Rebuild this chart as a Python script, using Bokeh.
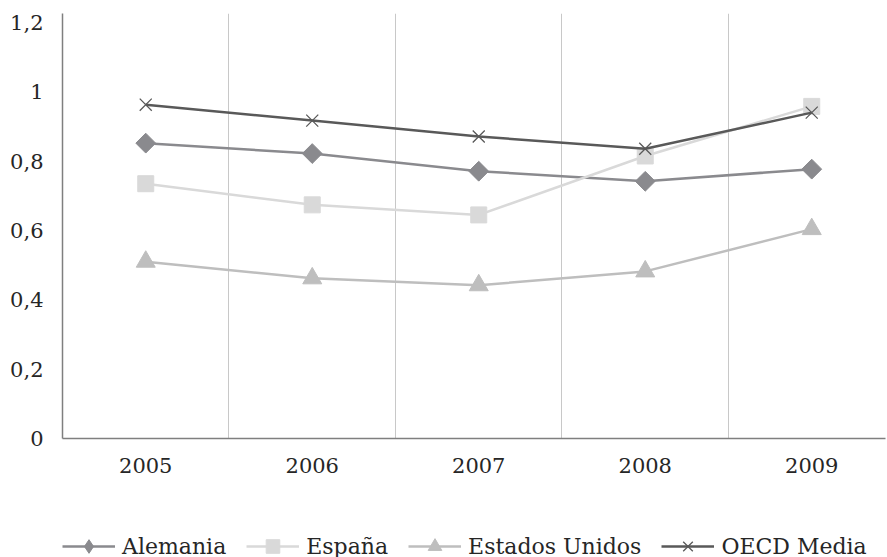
import math
from bokeh.plotting import figure
from bokeh.layouts import column
from bokeh.models import FixedTicker, Legend, LegendItem, Range1d
from bokeh.embed import file_html
from bokeh.resources import INLINE

years = ["2005", "2006", "2007", "2008", "2009"]
alemania = [0.852, 0.822, 0.771, 0.742, 0.777]
espana = [0.735, 0.674, 0.645, 0.815, 0.958]
eeuu = [0.510, 0.462, 0.442, 0.482, 0.604]
oecd = [0.963, 0.917, 0.871, 0.836, 0.940]
y_ticks = [0, 0.2, 0.4, 0.6, 0.8, 1.0, 1.2]
y_labels = ["0", "0,2", "0,4", "0,6", "0,8", "1", "1,2"]

FONT = "DejaVu Serif"
TXT = "#262626"
x = list(range(len(years)))

series = [
    ("Alemania", alemania, "#8a8a8e", "square", 14, math.pi / 4),
    ("España", espana, "#d9d9d9", "square", 16, 0),
    ("Estados Unidos", eeuu, "#bebebe", "triangle", 19, 0),
    ("OECD Media", oecd, "#595959", "x", 17, 0),
]


def add_series(fig, legend_copy=False):
    rs = []
    for name, vals, col, marker, size, ang in series:
        l = fig.line(x, vals, line_color=col, line_width=2.5)
        if legend_copy and ang:
            marker, ang = "diamond", 0
        if marker == "x":
            s = fig.scatter(x, vals, marker="x", size=size, line_color=col, line_width=1.3)
        else:
            s = fig.scatter(x, vals, marker=marker, size=size, angle=ang,
                            fill_color=col, line_color=col, line_width=1)
        rs.append((name, l, s))
    return rs


# main chart
p = figure(width=887, height=486, output_backend="svg", toolbar_location=None,
           x_range=Range1d(-0.5, 4.443), y_range=Range1d(0, 1.226),
           min_border_left=62, min_border_right=2, min_border_top=13, min_border_bottom=48)
p.outline_line_color = None

p.xaxis.ticker = FixedTicker(ticks=x)
p.xaxis.major_label_overrides = {i: y for i, y in enumerate(years)}
p.yaxis.ticker = FixedTicker(ticks=y_ticks)
p.yaxis.major_label_overrides = {t: l for t, l in zip(y_ticks, y_labels)}
for ax in (p.xaxis[0], p.yaxis[0]):
    ax.major_tick_line_color = None
    ax.minor_tick_line_color = None
    ax.major_tick_out = 0
    ax.major_tick_in = 0
    ax.axis_line_color = "#7f7f7f"
    ax.axis_line_width = 1.5
    ax.major_label_text_font = FONT
    ax.major_label_text_font_size = "21px"
    ax.major_label_text_color = TXT
p.xaxis.major_label_standoff = 19
p.yaxis.major_label_standoff = 19

p.ygrid.grid_line_color = None
p.xgrid.ticker = FixedTicker(ticks=[0.5, 1.5, 2.5, 3.5])
p.xgrid.grid_line_color = "#c8c8c8"
p.xgrid.grid_line_width = 1

add_series(p)

# legend strip (its own copies of the series, kept outside its visible range)
q = figure(width=887, height=71, output_backend="svg", toolbar_location=None,
           x_range=Range1d(100, 200), y_range=Range1d(0, 1.226),
           x_axis_type=None, y_axis_type=None,
           min_border_left=0, min_border_right=0, min_border_top=0, min_border_bottom=0)
q.outline_line_color = None
q.xgrid.grid_line_color = None
q.ygrid.grid_line_color = None
items = [LegendItem(label=name, renderers=[l, s]) for name, l, s in add_series(q, True)]
legend = Legend(items=items, orientation="horizontal", location=(0, -6),
                glyph_width=53, glyph_height=34, label_standoff=7, spacing=20,
                padding=0, margin=0, border_line_color=None, background_fill_alpha=0,
                label_text_font=FONT, label_text_font_size="22px",
                label_text_color=TXT)
q.add_layout(legend, "center")

layout = column(p, q, spacing=0)
open("out.html", "w").write(file_html(layout, INLINE))
